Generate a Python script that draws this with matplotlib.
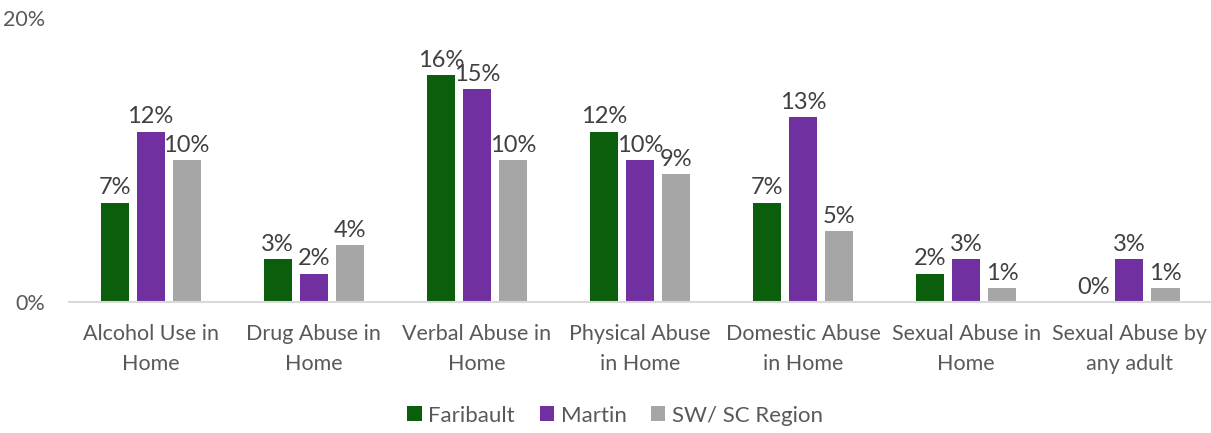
import numpy as np
import matplotlib.pyplot as plt

plt.rcParams['font.family'] = ['Lato', 'DejaVu Sans']

categories = ["Alcohol Use in\nHome", "Drug Abuse in\nHome", "Verbal Abuse in\nHome",
              "Physical Abuse\nin Home", "Domestic Abuse\nin Home", "Sexual Abuse in\nHome",
              "Sexual Abuse by\nany adult"]
series = ["Faribault", "Martin", "SW/ SC Region"]
faribault = [7, 3, 16, 12, 7, 2, 0]
martin = [12, 2, 15, 10, 13, 3, 3]
region = [10, 4, 10, 9, 5, 1, 1]
colors = ["#0b5e0b", "#7030a0", "#a6a6a6"]

fig = plt.figure(figsize=(12.11, 4.33), dpi=100)
ax = fig.add_axes([0.057, 0.3025, 0.943, 0.656])

x = np.arange(len(categories))
width = 0.172
step = 0.221
for i, (name, vals) in enumerate(zip(series, [faribault, martin, region])):
    pos = x + (i - 1) * step
    ax.bar(pos, vals, width, color=colors[i], label=name, zorder=2)
    for p, v in zip(pos, vals):
        ax.annotate(f"{v}%", (p, v), xytext=(0, 3), textcoords="offset points",
                    ha="center", va="bottom", fontsize=17, color="#404040")

ax.set_xlim(-0.5, len(categories) - 0.5)
ax.set_ylim(0, 20)
ax.set_yticks([0, 20])
ax.set_yticklabels(["0%", "20%"])
ax.set_xticks(x)
ax.set_xticklabels(categories, linespacing=1.6)
ax.tick_params(axis="both", length=0, labelsize=15.5, colors="#595959")
ax.tick_params(axis="x", pad=16)
ax.tick_params(axis="y", pad=17)
for s in ["top", "right", "left"]:
    ax.spines[s].set_visible(False)
ax.spines["bottom"].set_color("#d9d9d9")
ax.spines["bottom"].set_linewidth(1.5)

fig.legend(loc="center", bbox_to_anchor=(0.508, 0.04), ncol=3, frameon=False,
           fontsize=16, handlelength=0.65, handleheight=0.65, columnspacing=1.1,
           handletextpad=0.3, labelcolor="#595959")

fig.savefig("out.png", dpi=100)
